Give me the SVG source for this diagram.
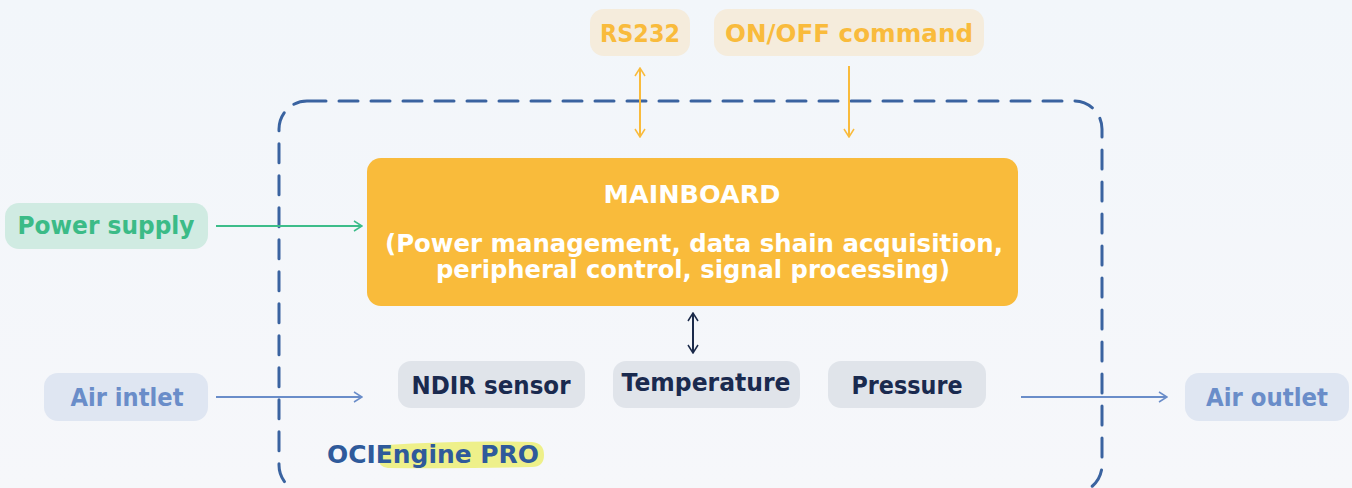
<svg xmlns="http://www.w3.org/2000/svg" width="1352" height="488" viewBox="0 0 1352 488">
<style>
.t{font-family:"DejaVu Sans","Liberation Sans",sans-serif;font-weight:bold;text-anchor:middle}
.ln{fill:none;stroke-width:2}
</style>
<defs>
<linearGradient id="bg" x1="0" y1="0" x2="0" y2="1">
<stop offset="0" stop-color="#f2f6fa"/><stop offset="1" stop-color="#f6f7fa"/>
</linearGradient>
<marker id="ao" viewBox="0 0 10 12" refX="9" refY="6" markerWidth="10" markerHeight="12" markerUnits="userSpaceOnUse" orient="auto-start-reverse"><path d="M1,1 L9,6 L1,11" fill="none" stroke="#f9bb3c" stroke-width="1.5"/></marker>
<marker id="ag" viewBox="0 0 10 12" refX="9" refY="6" markerWidth="10" markerHeight="12" markerUnits="userSpaceOnUse" orient="auto-start-reverse"><path d="M1,1 L9,6 L1,11" fill="none" stroke="#3dbd8a" stroke-width="1.5"/></marker>
<marker id="ab" viewBox="0 0 10 12" refX="9" refY="6" markerWidth="10" markerHeight="12" markerUnits="userSpaceOnUse" orient="auto-start-reverse"><path d="M1,1 L9,6 L1,11" fill="none" stroke="#6a8dc9" stroke-width="1.5"/></marker>
<marker id="ad" viewBox="0 0 10 12" refX="9" refY="6" markerWidth="10" markerHeight="12" markerUnits="userSpaceOnUse" orient="auto-start-reverse"><path d="M1,1 L9,6 L1,11" fill="none" stroke="#1b2a4a" stroke-width="1.5"/></marker>
</defs>
<rect width="1352" height="488" fill="url(#bg)"/>

<g id="boundary">
<rect x="279" y="101" width="823" height="392" rx="28" fill="none" stroke="#3a63a0" stroke-width="3" stroke-dasharray="19 13" stroke-linecap="round"/>
</g>

<g id="connectors">
<line class="ln" x1="640" y1="68" x2="640" y2="137" stroke="#f9bb3c" marker-start="url(#ao)" marker-end="url(#ao)"/>
<line class="ln" x1="849" y1="66" x2="849" y2="137" stroke="#f9bb3c" marker-end="url(#ao)"/>
<line class="ln" x1="216" y1="226" x2="362" y2="226" stroke="#3dbd8a" marker-end="url(#ag)"/>
<line class="ln" x1="216" y1="397" x2="362" y2="397" stroke="#6a8dc9" marker-end="url(#ab)"/>
<line class="ln" x1="1021" y1="397" x2="1167" y2="397" stroke="#6a8dc9" marker-end="url(#ab)"/>
<line class="ln" x1="693" y1="313" x2="693" y2="353" stroke="#1b2a4a" marker-start="url(#ad)" marker-end="url(#ad)"/>
</g>

<g id="rs232">
<rect x="590" y="9" width="100" height="47" rx="14" fill="#f5ecdc"/>
<text class="t" x="640" y="42" font-size="25" fill="#f9bb3c" textLength="80" lengthAdjust="spacingAndGlyphs">RS232</text>
</g>
<g id="onoff">
<rect x="714" y="9" width="270" height="47" rx="14" fill="#f5ecdc"/>
<text class="t" x="849" y="42" font-size="25" fill="#f9bb3c" textLength="248" lengthAdjust="spacingAndGlyphs">ON/OFF command</text>
</g>
<g id="power">
<rect x="5" y="203" width="203" height="46" rx="14" fill="#d0ebe2"/>
<text class="t" x="106" y="234" font-size="25" fill="#3bbb87" textLength="177" lengthAdjust="spacingAndGlyphs">Power supply</text>
</g>
<g id="airin">
<rect x="44" y="373" width="164" height="48" rx="14" fill="#dfe6f2"/>
<text class="t" x="127" y="406" font-size="25" fill="#6a8dc9" textLength="113" lengthAdjust="spacingAndGlyphs">Air intlet</text>
</g>
<g id="airout">
<rect x="1185" y="373" width="164" height="48" rx="14" fill="#dfe6f2"/>
<text class="t" x="1267" y="406" font-size="25" fill="#6a8dc9" textLength="122" lengthAdjust="spacingAndGlyphs">Air outlet</text>
</g>
<g id="mainboard">
<rect x="367" y="158" width="651" height="148" rx="14" fill="#f9bb3b"/>
<text class="t" x="692" y="203" font-size="24" fill="#ffffff" textLength="177" lengthAdjust="spacingAndGlyphs">MAINBOARD</text>
<text class="t" x="694" y="252" font-size="24" fill="#ffffff" textLength="618" lengthAdjust="spacingAndGlyphs">(Power management, data shain acquisition,</text>
<text class="t" x="693" y="278" font-size="24" fill="#ffffff" textLength="514" lengthAdjust="spacingAndGlyphs">peripheral control, signal processing)</text>
</g>
<g id="ndir">
<rect x="398" y="361" width="187" height="47" rx="13" fill="#e0e4ea"/>
<text class="t" x="491" y="394" font-size="25" fill="#1a2a4f" textLength="159" lengthAdjust="spacingAndGlyphs">NDIR sensor</text>
</g>
<g id="temperature">
<rect x="613" y="361" width="187" height="47" rx="13" fill="#e0e4ea"/>
<text class="t" x="706" y="391" font-size="25" fill="#1a2a4f" textLength="169" lengthAdjust="spacingAndGlyphs">Temperature</text>
</g>
<g id="pressure">
<rect x="828" y="361" width="158" height="47" rx="13" fill="#e0e4ea"/>
<text class="t" x="907" y="394" font-size="25" fill="#1a2a4f" textLength="111" lengthAdjust="spacingAndGlyphs">Pressure</text>
</g>
<g id="brand">
<path d="M386,445 Q460,440 532,442 Q544,443 544,455 Q544,467 532,467 Q460,469 388,468 Q378,467 378,456 Q378,446 386,445 Z" fill="#eef08a"/>
<text x="327" y="463" font-family="DejaVu Sans,sans-serif" font-weight="bold" font-size="25" fill="#2f5a9b" textLength="212" lengthAdjust="spacingAndGlyphs">OCIEngine PRO</text>
</g>
</svg>
